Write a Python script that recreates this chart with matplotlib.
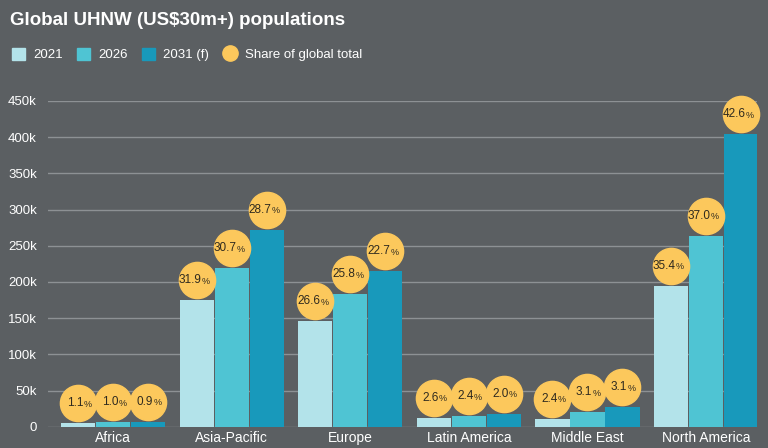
import matplotlib.pyplot as plt
import matplotlib.transforms as mtransforms
from matplotlib.patches import Rectangle
from matplotlib.lines import Line2D
import numpy as np

# data
regions = ["Africa", "Asia-Pacific", "Europe", "Latin America", "Middle East", "North America"]
pop_2021 = [5000, 175000, 146000, 12500, 11000, 195000]
pop_2026 = [6500, 219000, 183000, 15000, 20500, 264000]
pop_2031 = [7500, 272000, 215000, 18000, 27500, 404000]
share_2021 = ["1.1", "31.9", "26.6", "2.6", "2.4", "35.4"]
share_2026 = ["1.0", "30.7", "25.8", "2.4", "3.1", "37.0"]
share_2031 = ["0.9", "28.7", "22.7", "2.0", "3.1", "42.6"]
series_names = ["2021", "2026", "2031 (f)"]

plt.rcParams["font.family"] = ["Liberation Sans", "DejaVu Sans"]

bg = "#5b5f62"
colors = ["#b3e3ea", "#4fc4d3", "#1899bb"]
gold = "#fcc85c"
txt = "#ffffff"
dark = "#2f2a1f"

fig = plt.figure(figsize=(7.68, 4.48), dpi=100, facecolor=bg)
ax = fig.add_axes([0.0625, 0.047, 0.923, 0.728], facecolor=bg)

x = np.arange(len(regions))
w = 0.29
pops = [pop_2021, pop_2026, pop_2031]
shares = [share_2021, share_2026, share_2031]

ax.set_ylim(0, 450000)
ax.set_xlim(-0.55, 5.43)
ax.set_yticks(np.arange(0, 450001, 50000))
ax.set_yticklabels(["0"] + [f"{v}k" for v in range(50, 451, 50)])
ax.grid(axis="y", color="#8d9194", linewidth=1)
ax.set_axisbelow(True)
for s in ax.spines.values():
    s.set_visible(False)
ax.tick_params(axis="y", length=0, colors=txt, labelsize=9.5, pad=8)
ax.tick_params(axis="x", length=0, colors=txt, labelsize=10, pad=3)
ax.set_xticks(x)
ax.set_xticklabels(regions)

off = mtransforms.offset_copy(ax.transData, fig=fig, y=20, units="dots")
num_off = mtransforms.offset_copy(ax.transData, fig=fig, x=5, y=20, units="dots")
pct_off = mtransforms.offset_copy(ax.transData, fig=fig, x=5, y=19, units="dots")
for i in range(3):
    xs = x + (i - 1) * (w + 0.005)
    ax.bar(xs, pops[i], width=w, color=colors[i], zorder=2)
    ax.scatter(xs, pops[i], s=680, color=gold, transform=off, zorder=3, clip_on=False)
    for xi, yi, sh in zip(xs, pops[i], shares[i]):
        ax.text(xi, yi, sh, transform=num_off, ha="right", va="center",
                fontsize=8.5, color=dark, zorder=4)
        ax.text(xi, yi, "%", transform=pct_off, ha="left", va="center",
                fontsize=6.5, color=dark, zorder=4)

fig.text(0.013, 0.955, "Global UHNW (US$30m+) populations", color=txt, fontsize=13.5,
         fontweight="bold", va="center")

handles = [Rectangle((0, 0), 1, 1, color=c) for c in colors]
handles.append(Line2D([], [], marker="o", linestyle="", markersize=11, color=gold))
fig.legend(handles, series_names + ["Share of global total"], loc="center left",
           bbox_to_anchor=(0.0, 0.878), ncol=4, frameon=False, fontsize=9.5,
           labelcolor=txt, handlelength=1.0, handleheight=1.0, handletextpad=0.6,
           columnspacing=1.1)

fig.savefig("out.png", dpi=100, facecolor=bg)
